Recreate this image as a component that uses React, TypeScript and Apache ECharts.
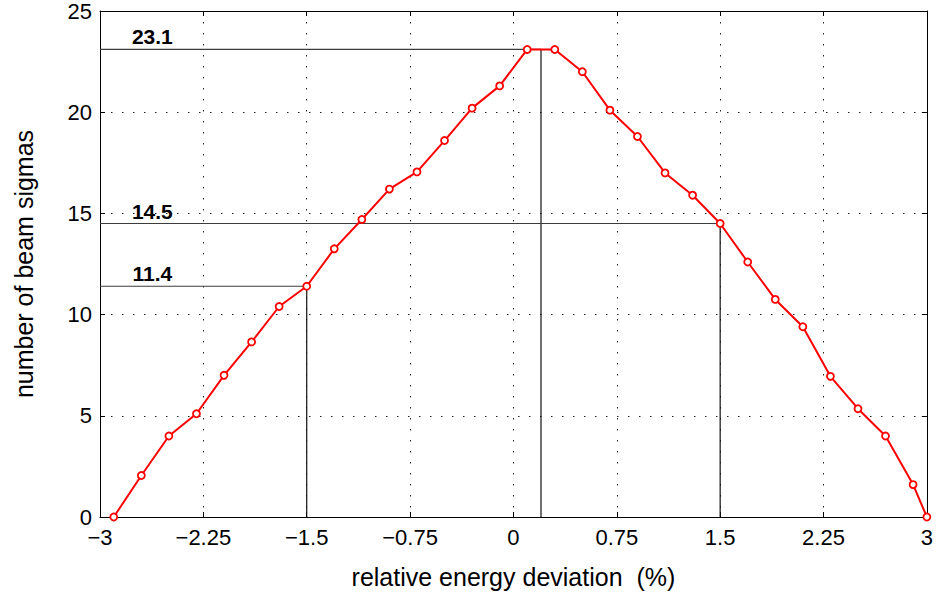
import React, { useEffect, useRef } from "react";
import * as echarts from "echarts";

// Relative energy deviation (%) of each tracked particle set
const deviation = [
  -2.9, -2.7, -2.5, -2.3, -2.1, -1.9, -1.7, -1.5, -1.3, -1.1, -0.9, -0.7, -0.5, -0.3, -0.1,
  0.1, 0.3, 0.5, 0.7, 0.9, 1.1, 1.3, 1.5, 1.7, 1.9, 2.1, 2.3, 2.5, 2.7, 2.9, 3.0,
];
// Aperture in units of beam sigma at each deviation
const sigmas = [
  0, 2.05, 4.0, 5.1, 7.0, 8.65, 10.4, 11.4, 13.25, 14.7, 16.2, 17.05, 18.6, 20.2, 21.3,
  23.1, 23.1, 22.0, 20.1, 18.8, 17.0, 15.9, 14.5, 12.6, 10.75, 9.4, 6.95, 5.35, 4.0, 1.6, 0,
];

// Reference readings: deviation and aperture value
const refDeviation = [0.2, 1.5, -1.5];
const refSigma = [23.1, 14.5, 11.4];

const xMin = -3;
const xMax = 3;
const xStep = 0.75;
const yMin = 0;
const yMax = 25;
const yStep = 5;

const xAxisTitle = "relative energy deviation  (%)";
const yAxisTitle = "number of beam sigmas";

const FONT = "'Liberation Sans', Arial, Helvetica, sans-serif";

const fmtTick = (v: number) => {
  const s = String(Math.abs(v));
  return v < 0 ? "\u2212" + s : s;
};

export default function App() {
  const ref = useRef<HTMLDivElement>(null);

  useEffect(() => {
    if (!ref.current) return;
    const chart = echarts.init(ref.current, null, { renderer: "svg" });

    const dotted = { color: "#222", width: 1, type: [1.5, 9.5] as number[] };

    const refSeries: any[] = [];
    refDeviation.forEach((dx, i) => {
      const v = refSigma[i];
      refSeries.push({
        type: "line",
        data: [
          [xMin, v],
          [dx, v],
        ],
        symbol: "none",
        lineStyle: { color: "#3c3c3c", width: 1.2 },
        z: 1,
        silent: true,
      });
      refSeries.push({
        type: "line",
        data: [
          [dx, v],
          [dx, 0],
        ],
        symbol: "none",
        lineStyle: { color: "#111", width: 1.2 },
        z: 1,
        silent: true,
      });
    });

    chart.setOption({
      animation: false,
      backgroundColor: "#fff",
      textStyle: { fontFamily: FONT },
      grid: { left: 100, right: 8, top: 8, bottom: 79, containLabel: false },
      xAxis: [
        {
          type: "value",
          min: xMin,
          max: xMax,
          interval: xStep,
          name: xAxisTitle,
          nameLocation: "middle",
          nameGap: 47,
          nameTextStyle: { fontSize: 25, color: "#000", fontFamily: FONT },
          axisLine: { show: true, onZero: false, lineStyle: { color: "#000", width: 1 } },
          axisTick: { show: true, inside: true, length: 5, lineStyle: { color: "#000" } },
          axisLabel: {
            fontSize: 22,
            color: "#000",
            margin: 9,
            fontFamily: FONT,
            formatter: fmtTick,
          },
          splitLine: { show: true, lineStyle: dotted },
        },
        {
          type: "value",
          position: "top",
          min: xMin,
          max: xMax,
          interval: xStep,
          axisLine: { show: true, onZero: false, lineStyle: { color: "#000", width: 1 } },
          axisTick: { show: true, inside: true, length: 5, lineStyle: { color: "#000" } },
          axisLabel: { show: false },
          splitLine: { show: false },
        },
      ],
      yAxis: [
        {
          type: "value",
          min: yMin,
          max: yMax,
          interval: yStep,
          name: yAxisTitle,
          nameLocation: "middle",
          nameGap: 64,
          nameTextStyle: { fontSize: 25, color: "#000", fontFamily: FONT },
          axisLine: { show: true, onZero: false, lineStyle: { color: "#000", width: 1 } },
          axisTick: { show: true, inside: true, length: 5, lineStyle: { color: "#000" } },
          axisLabel: { fontSize: 22, color: "#000", margin: 8, fontFamily: FONT },
          splitLine: { show: true, lineStyle: dotted },
        },
        {
          type: "value",
          position: "right",
          min: yMin,
          max: yMax,
          interval: yStep,
          axisLine: { show: true, onZero: false, lineStyle: { color: "#000", width: 1 } },
          axisTick: { show: true, inside: true, length: 5, lineStyle: { color: "#000" } },
          axisLabel: { show: false },
          splitLine: { show: false },
        },
      ],
      series: [
        ...refSeries,
        {
          type: "scatter",
          data: refSigma.map((v) => [-2.62, v]),
          symbolSize: 0,
          silent: true,
          itemStyle: { opacity: 1 },
          label: {
            show: true,
            position: "top",
            distance: 2,
            formatter: (p: any) => String(p.value[1]),
            fontSize: 21,
            fontWeight: "bold",
            color: "#000",
            opacity: 1,
            textBorderWidth: 0,
            fontFamily: FONT,
          },
          z: 3,
        },
        {
          type: "line",
          data: deviation.map((d, i) => [d, sigmas[i]]),
          symbol: "circle",
          symbolSize: 7,
          itemStyle: { color: "#fff", borderColor: "#ff0000", borderWidth: 1.8 },
          lineStyle: { color: "#ff0000", width: 2 },
          z: 5,
          silent: true,
        },
      ],
    });

    return () => chart.dispose();
  }, []);

  return (
    <div
      ref={ref}
      style={{ position: "fixed", left: 0, top: 0, width: 936, height: 596, background: "#fff" }}
    />
  );
}
